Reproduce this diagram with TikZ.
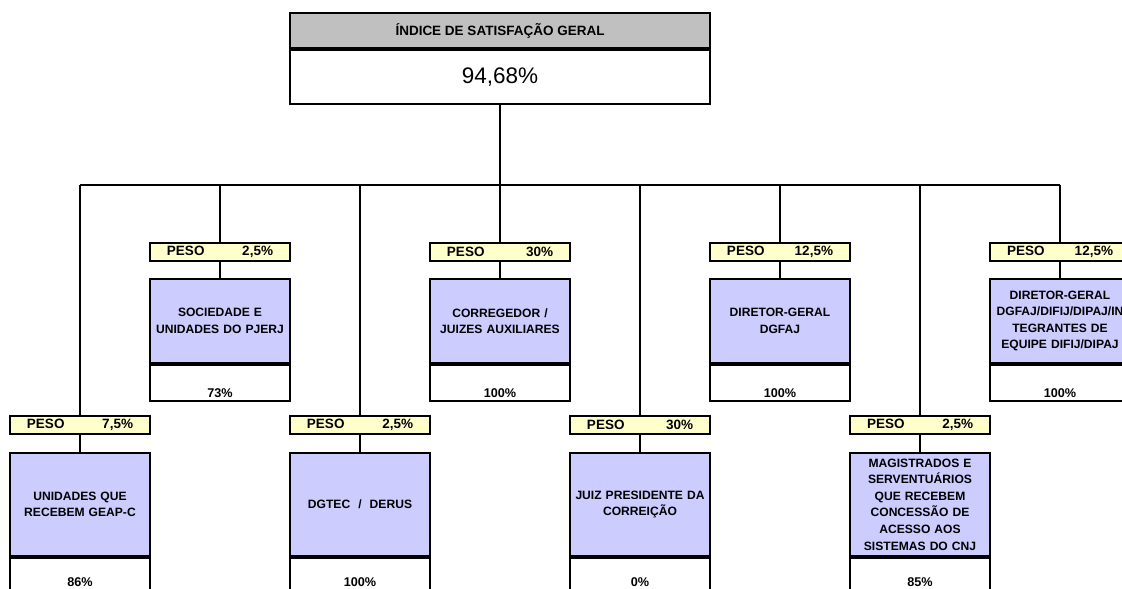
\documentclass[tikz,border=0pt]{standalone}
\usepackage{fontspec}
\setmainfont{Liberation Sans}
\usetikzlibrary{positioning}
\definecolor{cinza}{HTML}{C0C0C0}
\definecolor{lilas}{HTML}{CCCCFF}
\definecolor{creme}{HTML}{FFFFCC}
\tikzset{
  linha/.style={line width=1.3pt},
  caixa/.style={draw, line width=1.4pt, minimum width=3.5cm, inner sep=0pt},
  peso/.style={caixa, fill=creme, minimum height=0.45cm, text width=2.65cm,
    font=\bfseries\fontsize{9.6}{10}\selectfont},
  setor/.style={caixa, fill=lilas, text width=3.4cm, align=center,
    font=\bfseries\fontsize{8.6}{11.8}\selectfont},
  nota/.style={caixa, minimum height=0.9cm},
  valor/.style={font=\bfseries\fontsize{9}{10}\selectfont, inner sep=0pt}
}
\begin{document}
\begin{tikzpicture}[x=0.025cm, y=-0.025cm]
\useasboundingbox (0,0) rectangle (1122,588);

% indice geral
\node[caixa, fill=cinza, minimum width=10.5cm, minimum height=0.875cm,
  anchor=north, font=\bfseries\fontsize{9.6}{11}\selectfont] (topo) at (500,12)
  {ÍNDICE DE SATISFAÇÃO GERAL};
\node[caixa, minimum width=10.5cm, minimum height=1.35cm, anchor=north,
  font=\fontsize{16}{18}\selectfont] (geral) at (topo.south) {94,68\%};

% barramento
\coordinate (busE) at (80,185);
\coordinate (busD) at (1060,185);
\draw[linha] (busE) -- (busD);

% linha de cima
\foreach \n/\x/\p/\t/\v in {
  1/220/{2,5\%}/{SOCIEDADE E\\UNIDADES DO PJERJ}/{73\%},
  3/500/{30\%}/{CORREGEDOR /\\JUIZES AUXILIARES}/{100\%},
  5/780/{12,5\%}/{DIRETOR-GERAL\\DGFAJ}/{100\%},
  7/1060/{12,5\%}/{DIRETOR-GERAL\\DGFAJ/DIFIJ/DIPAJ/IN\\TEGRANTES DE\\EQUIPE DIFIJ/DIPAJ}/{100\%}}
{
  \node[peso, anchor=north] (peso\n) at (\x,242) {PESO\hfill\p};
  \node[setor, anchor=north, minimum height=2.1cm] (setor\n) at (\x,278) {\t};
  \node[nota, anchor=north] (cel\n) at (setor\n.south) {};
  \node[valor, anchor=base] (val\n) at ([yshift=0.1cm]cel\n.south) {\v};
  \draw[linha] (peso\n.south) -- (setor\n.north);
}

% linha de baixo
\foreach \n/\x/\p/\t/\v in {
  0/80/{7,5\%}/{UNIDADES QUE\\RECEBEM GEAP-C}/{86\%},
  2/360/{2,5\%}/{DGTEC~~/~~DERUS}/{100\%},
  4/640/{30\%}/{JUIZ PRESIDENTE DA\\CORREIÇÃO}/{0\%},
  6/920/{2,5\%}/{MAGISTRADOS E\\SERVENTUÁRIOS\\QUE RECEBEM\\CONCESSÃO DE\\ACESSO AOS\\SISTEMAS DO CNJ}/{85\%}}
{
  \node[peso, anchor=north] (peso\n) at (\x,415) {PESO\hfill\p};
  \node[setor, anchor=north, minimum height=2.575cm] (setor\n) at (\x,452) {\t};
  \node[nota, anchor=north] (cel\n) at (setor\n.south) {};
  \node[valor, anchor=base] (val\n) at ([yshift=0.2cm]cel\n.south) {\v};
  \draw[linha] (peso\n.south) -- (setor\n.north);
}

% ligacoes ao barramento
\draw[linha] (geral.south) -- (peso3.north);
\foreach \n in {0,1,2,4,5,6}
  \draw[linha] (peso\n.north |- busE) -- (peso\n.north);
\draw[linha] (busD) -- (peso7.north);
\end{tikzpicture}
\end{document}
